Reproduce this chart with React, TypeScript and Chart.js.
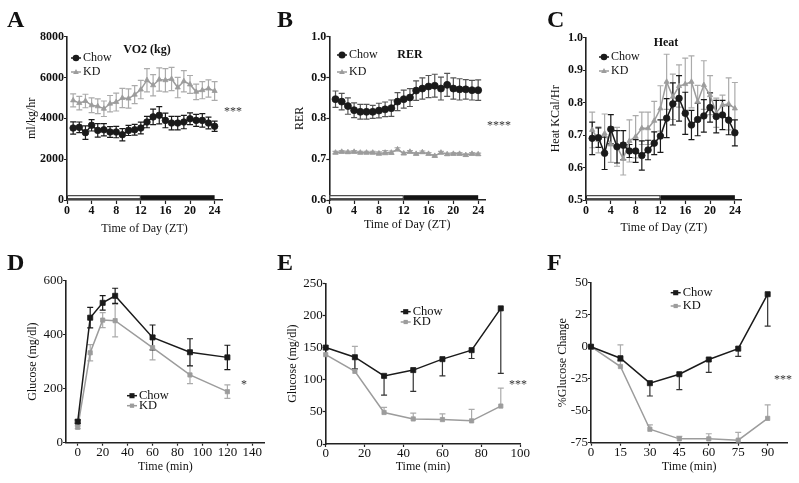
import React, { useEffect, useRef } from "react";
import { Chart, registerables } from "chart.js";

Chart.register(...registerables);

const SERIF = '"Liberation Serif", "Times New Roman", serif';
Chart.defaults.font.family = SERIF;

// ---------------- DATA ----------------
const ztHours = [1, 2, 3, 4, 5, 6, 7, 8, 9, 10, 11, 12, 13, 14, 15, 16, 17, 18, 19, 20, 21, 22, 23, 24];
const ztTicks = [0, 4, 8, 12, 16, 20, 24];
const lightDark = [
  { from: 0, to: 12, dark: false },
  { from: 12, to: 24, dark: true },
];

const vo2Ticks = [0, 2000, 4000, 6000, 8000];
const vo2Chow = [3525, 3560, 3300, 3660, 3410, 3440, 3330, 3330, 3200, 3410, 3440, 3525, 3820, 4070, 4150, 3900, 3770, 3770, 3820, 3980, 3900, 3900, 3770, 3610];
const vo2ChowErr = [300, 260, 330, 280, 330, 300, 260, 280, 300, 250, 260, 290, 280, 380, 420, 360, 330, 330, 330, 290, 290, 330, 290, 250];
const vo2Kd = [4880, 4750, 4850, 4640, 4590, 4470, 4720, 4800, 5000, 4970, 5160, 5410, 5870, 5620, 5900, 5870, 5930, 5510, 5820, 5660, 5300, 5380, 5460, 5340];
const vo2KdErr = [320, 330, 330, 360, 360, 380, 400, 440, 470, 470, 440, 450, 570, 520, 570, 570, 570, 500, 520, 440, 380, 420, 420, 460];

const rerTicks = [0.6, 0.7, 0.8, 0.9, 1.0];
const rerChow = [0.847, 0.841, 0.83, 0.82, 0.816, 0.816, 0.816, 0.819, 0.822, 0.825, 0.841, 0.847, 0.851, 0.868, 0.873, 0.878, 0.88, 0.873, 0.882, 0.873, 0.871, 0.871, 0.869, 0.869];
const rerChowErr = [0.02, 0.02, 0.02, 0.018, 0.018, 0.018, 0.016, 0.018, 0.018, 0.02, 0.022, 0.022, 0.022, 0.024, 0.026, 0.027, 0.028, 0.028, 0.028, 0.026, 0.026, 0.024, 0.024, 0.025];
const rerKd = [0.716, 0.718, 0.717, 0.718, 0.716, 0.716, 0.716, 0.714, 0.716, 0.716, 0.724, 0.714, 0.718, 0.713, 0.717, 0.713, 0.708, 0.716, 0.712, 0.713, 0.713, 0.71, 0.713, 0.712];
const rerKdErr = [0.003, 0.003, 0.003, 0.003, 0.003, 0.003, 0.003, 0.004, 0.005, 0.004, 0.004, 0.003, 0.003, 0.003, 0.003, 0.003, 0.003, 0.003, 0.003, 0.003, 0.003, 0.003, 0.003, 0.003];

const heatTicks = [0.5, 0.6, 0.7, 0.8, 0.9, 1.0];
const heatChow = [0.69, 0.692, 0.644, 0.718, 0.664, 0.669, 0.651, 0.651, 0.637, 0.654, 0.675, 0.697, 0.752, 0.796, 0.813, 0.767, 0.731, 0.748, 0.759, 0.785, 0.757, 0.762, 0.746, 0.707];
const heatChowErr = [0.05, 0.03, 0.05, 0.045, 0.05, 0.045, 0.02, 0.035, 0.045, 0.03, 0.035, 0.05, 0.06, 0.065, 0.07, 0.065, 0.045, 0.05, 0.05, 0.045, 0.05, 0.045, 0.045, 0.04];
const heatKd = [0.716, 0.685, 0.705, 0.671, 0.664, 0.627, 0.682, 0.695, 0.721, 0.721, 0.744, 0.782, 0.864, 0.818, 0.851, 0.857, 0.864, 0.803, 0.854, 0.823, 0.769, 0.793, 0.796, 0.782];
const heatKdErr = [0.055, 0.04, 0.06, 0.055, 0.06, 0.05, 0.065, 0.065, 0.05, 0.05, 0.06, 0.07, 0.085, 0.07, 0.065, 0.08, 0.08, 0.05, 0.075, 0.06, 0.045, 0.03, 0.08, 0.08];

const gttTime = [0, 10, 20, 30, 60, 90, 120];
const gttXTicks = [0, 20, 40, 60, 80, 100, 120, 140];
const gttYTicks = [0, 200, 400, 600];
const gttChow = [78, 463, 518, 544, 390, 335, 316];
const gttChowErr = [6, 38, 27, 28, 46, 50, 45];
const gttKd = [57, 333, 454, 452, 352, 251, 189];
const gttKdErr = [5, 30, 28, 60, 45, 32, 25];

const ittTime = [0, 15, 30, 45, 60, 75, 90];
const ittXTicks = [0, 20, 40, 60, 80, 100];
const ittYTicks = [0, 50, 100, 150, 200, 250];
const ittChow = [150, 135, 106, 115, 132, 146, 211];
const ittChowErr = [0, 18, 30, 33, 26, 13, 101];
const ittKd = [139, 113, 49, 39, 38, 36, 59];
const ittKdErr = [0, 39, 8, 9, 9, 18, 28];

const pctTime = [0, 15, 30, 45, 60, 75, 90];
const pctXTicks = [0, 15, 30, 45, 60, 75, 90];
const pctYTicks = [-75, -50, -25, 0, 25, 50];
const pctChow = [0, -9, -28.5, -21.5, -10, -1.5, 41];
const pctChowErr = [0, 2, 10, 12, 10, 6, 25];
const pctKd = [0, -15.5, -64.5, -72, -72, -73, -56];
const pctKdErr = [0, 17, 3.5, 2, 4, 6, 10.5];

// ---------------- STYLE ----------------
const INK = "#1a1a1a";
const GREY = "#9c9c9c";
const GREY_ERR = "#ababab";
const AXIS = "#222";

type Series = {
  label: string;
  values: number[];
  up?: number[];
  down?: number[];
  color: string;
  errColor: string;
  marker: string;
  radius: number;
};

type PanelCfg = {
  letter: string;
  left: number;
  top: number;
  w: number;
  h: number;
  area: { l: number; r: number; t: number; b: number };
  xs: number[];
  xMin: number;
  xMax: number;
  xTicks: number[];
  yMin: number;
  yMax: number;
  yTicks: number[];
  yFmt: (v: number) => string;
  xTitle: string;
  yTitle: string;
  xTitlePad: number;
  yTitlePad: number;
  bold: boolean;
  series: Series[];
  title?: { text: string; x: number; y: number };
  legend: { x: number; y: number; dy: number };
  stars?: { text: string; x: number; y: number };
  bar?: typeof lightDark;
};

const fmt1 = (v: number) => v.toFixed(1);
const fmtInt = (v: number) => String(v);

const panels: PanelCfg[] = [
  {
    letter: "A", left: 0, top: 0, w: 260, h: 240,
    area: { l: 67, r: 222, t: 36.7, b: 200 },
    xs: ztHours, xMin: 0, xMax: 25.2, xTicks: ztTicks,
    yMin: 0, yMax: 8000, yTicks: vo2Ticks, yFmt: fmtInt,
    xTitle: "Time of Day (ZT)", yTitle: "ml/kg/hr", xTitlePad: 4, yTitlePad: 24.8, bold: true,
    series: [
      { label: "Chow", values: vo2Chow, up: vo2ChowErr, down: vo2ChowErr, color: INK, errColor: INK, marker: "circle", radius: 3.3 },
      { label: "KD", values: vo2Kd, up: vo2KdErr, down: vo2KdErr, color: GREY, errColor: GREY_ERR, marker: "triangle", radius: 3 },
    ],
    title: { text: "VO2 (kg)", x: 147, y: 50 },
    legend: { x: 76, y: 58, dy: 14 },
    stars: { text: "***", x: 233, y: 109 },
    bar: lightDark,
  },
  {
    letter: "B", left: 260, top: 0, w: 270, h: 240,
    area: { l: 69.3, r: 225, t: 36.7, b: 200 },
    xs: ztHours, xMin: 0, xMax: 25.1, xTicks: ztTicks,
    yMin: 0.6, yMax: 1.0, yTicks: rerTicks, yFmt: fmt1,
    xTitle: "Time of Day (ZT)", yTitle: "RER", xTitlePad: 8, yTitlePad: 32.8, bold: true,
    series: [
      { label: "Chow", values: rerChow, up: rerChowErr, down: rerChowErr, color: INK, errColor: "#555", marker: "circle", radius: 3.5 },
      { label: "KD", values: rerKd, up: rerKdErr, down: rerKdErr, color: GREY, errColor: GREY_ERR, marker: "triangle", radius: 3 },
    ],
    title: { text: "RER", x: 150, y: 55 },
    legend: { x: 82, y: 55, dy: 17 },
    stars: { text: "****", x: 239, y: 123 },
    bar: lightDark,
  },
  {
    letter: "C", left: 530, top: 0, w: 269, h: 240,
    area: { l: 56, r: 211.7, t: 37.7, b: 200 },
    xs: ztHours, xMin: 0, xMax: 25.1, xTicks: ztTicks,
    yMin: 0.5, yMax: 1.0, yTicks: heatTicks, yFmt: fmt1,
    xTitle: "Time of Day (ZT)", yTitle: "Heat KCal/Hr", xTitlePad: 4.5, yTitlePad: 18.8, bold: true,
    series: [
      { label: "Chow", values: heatChow, up: heatChowErr, down: heatChowErr, color: INK, errColor: INK, marker: "circle", radius: 3.3 },
      { label: "KD", values: heatKd, up: heatKdErr, down: heatKdErr, color: GREY, errColor: GREY_ERR, marker: "triangle", radius: 3 },
    ],
    title: { text: "Heat", x: 136, y: 43 },
    legend: { x: 74, y: 57, dy: 14 },
    bar: lightDark,
  },
  {
    letter: "D", left: 0, top: 240, w: 275, h: 243,
    area: { l: 66, r: 264.8, t: 40.7, b: 202.7 },
    xs: gttTime, xMin: -9.4, xMax: 150, xTicks: gttXTicks,
    yMin: 0, yMax: 600, yTicks: gttYTicks, yFmt: fmtInt,
    xTitle: "Time (min)", yTitle: "Glucose (mg/dl)", xTitlePad: 8.8, yTitlePad: 26.1, bold: false,
    series: [
      { label: "Chow", values: gttChow, up: gttChowErr, down: gttChowErr, color: INK, errColor: INK, marker: "rect", radius: 3.6 },
      { label: "KD", values: gttKd, up: gttKdErr, down: gttKdErr, color: GREY, errColor: GREY_ERR, marker: "rect", radius: 3 },
    ],
    legend: { x: 132, y: 155.7, dy: 10 },
    stars: { text: "*", x: 244, y: 141.7 },
  },
  {
    letter: "E", left: 260, top: 240, w: 270, h: 243,
    area: { l: 65.7, r: 261.7, t: 43.3, b: 204 },
    xs: ittTime, xMin: 0, xMax: 100, xTicks: ittXTicks,
    yMin: 0, yMax: 250, yTicks: ittYTicks, yFmt: fmtInt,
    xTitle: "Time (min)", yTitle: "Glucose (mg/dl)", xTitlePad: 8.8, yTitlePad: 26.1, bold: false,
    series: [
      { label: "Chow", values: ittChow, down: ittChowErr, color: INK, errColor: "#333", marker: "rect", radius: 3.6 },
      { label: "KD", values: ittKd, up: ittKdErr, color: GREY, errColor: GREY_ERR, marker: "rect", radius: 3 },
    ],
    legend: { x: 145.7, y: 71.7, dy: 10.3 },
    stars: { text: "***", x: 258, y: 141.7 },
  },
  {
    letter: "F", left: 530, top: 240, w: 269, h: 243,
    area: { l: 61, r: 257.3, t: 42.7, b: 202.7 },
    xs: pctTime, xMin: 0, xMax: 100, xTicks: pctXTicks,
    yMin: -75, yMax: 50, yTicks: pctYTicks, yFmt: fmtInt,
    xTitle: "Time (min)", yTitle: "%Glucose Change", xTitlePad: 8.8, yTitlePad: 26.1, bold: false,
    series: [
      { label: "Chow", values: pctChow, down: pctChowErr, color: INK, errColor: "#333", marker: "rect", radius: 3.6 },
      { label: "KD", values: pctKd, up: pctKdErr, color: GREY, errColor: GREY_ERR, marker: "rect", radius: 3 },
    ],
    legend: { x: 145.7, y: 52.7, dy: 13.3 },
    stars: { text: "***", x: 253, y: 136.7 },
  },
];

// ---------------- PLUGINS ----------------
const errorBars = {
  id: "errorBars",
  beforeDatasetsDraw(chart: any) {
    const { ctx } = chart;
    const xs = chart.scales.x;
    const ys = chart.scales.y;
    const dss = chart.data.datasets;
    for (let i = dss.length - 1; i >= 0; i--) {
      const ds = dss[i];
      if (!ds.errUp && !ds.errDown) continue;
      ctx.save();
      ctx.strokeStyle = ds.errColor || ds.borderColor;
      ctx.lineWidth = 1.2;
      const cap = 3;
      ds.data.forEach((p: any, j: number) => {
        const x = xs.getPixelForValue(p.x);
        const y0 = ys.getPixelForValue(p.y);
        const ends: number[] = [];
        if (ds.errUp && ds.errUp[j] > 0) ends.push(ys.getPixelForValue(p.y + ds.errUp[j]));
        if (ds.errDown && ds.errDown[j] > 0) ends.push(ys.getPixelForValue(p.y - ds.errDown[j]));
        ends.forEach((ye) => {
          ctx.beginPath();
          ctx.moveTo(x, y0);
          ctx.lineTo(x, ye);
          ctx.moveTo(x - cap, ye);
          ctx.lineTo(x + cap, ye);
          ctx.stroke();
        });
      });
      ctx.restore();
    }
  },
};

function drawMarker(ctx: CanvasRenderingContext2D, style: string, x: number, y: number, r: number) {
  ctx.beginPath();
  if (style === "circle") {
    ctx.arc(x, y, r, 0, Math.PI * 2);
  } else if (style === "triangle") {
    ctx.moveTo(x, y - r);
    ctx.lineTo(x + r * 0.95, y + r * 0.65);
    ctx.lineTo(x - r * 0.95, y + r * 0.65);
    ctx.closePath();
  } else {
    const s = r * Math.SQRT1_2;
    ctx.rect(x - s, y - s, 2 * s, 2 * s);
  }
  ctx.fill();
}

function makeOverlay(p: PanelCfg) {
  return {
    id: "overlay",
    afterDatasetsDraw(chart: any) {
      const { ctx } = chart;
      const xs = chart.scales.x;
      const ys = chart.scales.y;
      ctx.save();
      if (p.bar) {
        const yb = ys.getPixelForValue(ys.min) - 0.8;
        p.bar.forEach((seg) => {
          const x1 = xs.getPixelForValue(seg.from);
          const x2 = xs.getPixelForValue(seg.to);
          if (seg.dark) {
            ctx.fillStyle = "#141414";
            ctx.fillRect(x1, yb - 4, x2 - x1, 4);
          } else {
            ctx.fillStyle = "#ffffff";
            ctx.fillRect(x1, yb - 4, x2 - x1, 4);
            ctx.strokeStyle = "#222";
            ctx.lineWidth = 1;
            ctx.strokeRect(x1 + 0.5, yb - 3.5, x2 - x1 - 1, 3);
          }
        });
      }
      ctx.fillStyle = "#111";
      if (p.title) {
        ctx.font = `bold 12px ${SERIF}`;
        ctx.textAlign = "center";
        ctx.textBaseline = "middle";
        ctx.fillText(p.title.text, p.title.x, p.title.y);
      }
      p.series.forEach((s, i) => {
        const y = p.legend.y + i * p.legend.dy;
        const x = p.legend.x;
        ctx.strokeStyle = s.color;
        ctx.fillStyle = s.color;
        ctx.lineWidth = 1.5;
        ctx.beginPath();
        ctx.moveTo(x - 5, y);
        ctx.lineTo(x + 5, y);
        ctx.stroke();
        drawMarker(ctx, s.marker, x, y, s.radius);
        ctx.fillStyle = "#111";
        ctx.font = `${p.bold ? 12 : 12.5}px ${SERIF}`;
        ctx.textAlign = "left";
        ctx.textBaseline = "middle";
        ctx.fillText(s.label, x + 7, y);
      });
      if (p.stars) {
        ctx.fillStyle = "#333";
        ctx.font = `12px ${SERIF}`;
        ctx.textAlign = "center";
        ctx.textBaseline = "alphabetic";
        ctx.fillText(p.stars.text, p.stars.x, p.stars.y + 6);
      }
      ctx.restore();
    },
  };
}

function buildConfig(p: PanelCfg): any {
  const tickFont = p.bold
    ? { family: SERIF, size: 12, weight: "bold" as const, lineHeight: 1.2 }
    : { family: SERIF, size: 13, weight: "normal" as const, lineHeight: 1 };
  const titleFont = { family: SERIF, size: 12, weight: "normal" as const, lineHeight: 1.2 };
  const datasets = p.series.map((s) => ({
    label: s.label,
    data: p.xs.map((x, i) => ({ x, y: s.values[i] })),
    borderColor: s.color,
    backgroundColor: s.color,
    borderWidth: 1.5,
    pointStyle: s.marker,
    pointRadius: s.radius,
    pointHoverRadius: s.radius,
    pointBorderWidth: 0.8,
    tension: 0,
    fill: false,
    clip: false,
    errUp: s.up,
    errDown: s.down,
    errColor: s.errColor,
  }));
  return {
    type: "line",
    data: { datasets },
    options: {
      responsive: false,
      animation: false,
      devicePixelRatio: 1,
      layout: {
        padding: { left: 0, top: p.area.t, right: p.w - p.area.r, bottom: 0 },
      },
      plugins: {
        legend: { display: false },
        tooltip: { enabled: false },
        title: { display: false },
      },
      scales: {
        x: {
          type: "linear",
          min: p.xMin,
          max: p.xMax,
          afterBuildTicks: (s: any) => {
            s.ticks = p.xTicks.map((v) => ({ value: v }));
          },
          afterFit: (s: any) => {
            s.height = p.h - p.area.b;
          },
          grid: { drawOnChartArea: false, drawTicks: true, tickLength: p.bold ? 4 : 3, tickColor: AXIS, tickWidth: 1.2 },
          border: { display: true, color: AXIS, width: 1.6 },
          ticks: {
            color: "#111",
            font: tickFont,
            padding: 0,
            autoSkip: false,
            maxRotation: 0,
            callback: (v: any) => String(v),
          },
          title: {
            display: true,
            text: p.xTitle,
            color: "#111",
            font: titleFont,
            padding: { top: 0, bottom: p.xTitlePad },
          },
        },
        y: {
          type: "linear",
          min: p.yMin,
          max: p.yMax,
          afterBuildTicks: (s: any) => {
            s.ticks = p.yTicks.map((v) => ({ value: v }));
          },
          afterFit: (s: any) => {
            s.width = p.area.l;
          },
          grid: { drawOnChartArea: false, drawTicks: true, tickLength: 3, tickColor: AXIS, tickWidth: 1.2 },
          border: { display: true, color: AXIS, width: 1.6 },
          ticks: {
            color: "#111",
            font: tickFont,
            padding: 0,
            autoSkip: false,
            callback: (v: any) => p.yFmt(Number(v)),
          },
          title: {
            display: true,
            text: p.yTitle,
            color: "#111",
            font: titleFont,
            padding: { top: p.yTitlePad, bottom: 0 },
          },
        },
      },
    },
    plugins: [errorBars, makeOverlay(p)],
  };
}

function Panel({ cfg }: { cfg: PanelCfg }) {
  const ref = useRef<HTMLCanvasElement>(null);
  useEffect(() => {
    const chart = new Chart(ref.current as HTMLCanvasElement, buildConfig(cfg));
    return () => chart.destroy();
  }, [cfg]);
  return (
    <canvas
      ref={ref}
      width={cfg.w}
      height={cfg.h}
      style={{ position: "absolute", left: cfg.left, top: cfg.top, width: cfg.w, height: cfg.h }}
    />
  );
}

export default function App() {
  return (
    <div
      style={{
        position: "fixed",
        left: 0,
        top: 0,
        width: 799,
        height: 483,
        background: "#fff",
        overflow: "hidden",
      }}
    >
      {panels.map((p) => (
        <Panel key={p.letter} cfg={p} />
      ))}
      {panels.map((p) => (
        <div
          key={"l" + p.letter}
          style={{
            position: "absolute",
            left: p.left + (p.letter === "A" || p.letter === "D" ? 7 : 17),
            top: p.top + (p.top === 0 ? 7 : 10),
            fontFamily: SERIF,
            fontWeight: "bold",
            fontSize: 24,
            lineHeight: 1,
            color: "#111",
          }}
        >
          {p.letter}
        </div>
      ))}
    </div>
  );
}
